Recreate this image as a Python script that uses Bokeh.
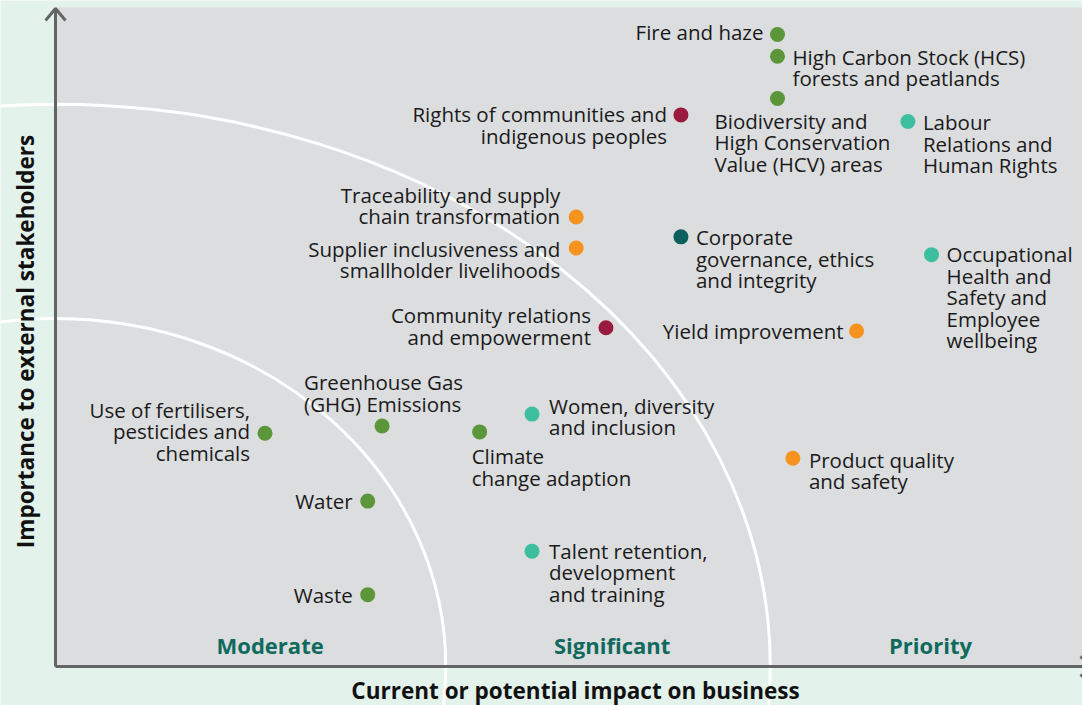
import math
from bokeh.plotting import figure
from bokeh.models import Range1d, ColumnDataSource
from bokeh.core.properties import value
from bokeh.embed import file_html
from bokeh.resources import INLINE

# ---------------- data ----------------
topics = [
    "Fire and haze",
    "High Carbon Stock (HCS)\nforests and peatlands",
    "Biodiversity and\nHigh Conservation\nValue (HCV) areas",
    "Rights of communities and\nindigenous peoples",
    "Labour\nRelations and\nHuman Rights",
    "Traceability and supply\nchain transformation",
    "Supplier inclusiveness and\nsmallholder livelihoods",
    "Corporate\ngovernance, ethics\nand integrity",
    "Occupational\nHealth and\nSafety and\nEmployee\nwellbeing",
    "Community relations\nand empowerment",
    "Yield improvement",
    "Use of fertilisers,\npesticides and\nchemicals",
    "Greenhouse Gas\n(GHG) Emissions",
    "Climate\nchange adaption",
    "Women, diversity\nand inclusion",
    "Product quality\nand safety",
    "Water",
    "Talent retention,\ndevelopment\nand training",
    "Waste",
]
impact = [70.3, 70.3, 70.3, 60.9, 83.0, 50.7, 50.7, 60.9, 85.3, 53.6,
          78.0, 20.4, 31.8, 41.3, 46.4, 71.8, 30.4, 46.4, 30.4]
importance = [95.9, 92.6, 86.2, 83.7, 82.7, 68.2, 63.5, 65.2, 62.5, 51.4,
              50.9, 35.4, 36.5, 35.6, 38.3, 31.6, 25.1, 17.5, 10.9]
group = ["Environment", "Environment", "Environment", "Community", "Workplace",
         "Operations", "Operations", "Governance", "Workplace", "Community",
         "Operations", "Environment", "Environment", "Environment", "Workplace",
         "Operations", "Environment", "Workplace", "Environment"]
zones = ["Moderate", "Significant", "Priority"]
zone_x = [20.9, 54.2, 85.2]
# zone boundaries: impact / importance at which each arc meets the axes
arc_impact = [38.0, 69.6]
arc_importance = [52.8, 85.3]
x_title = "Current or potential impact on business"
y_title = "Importance to external stakeholders"

# ---------------- styles / layout ----------------
group_colors = {"Environment": "#5b963a", "Community": "#9b1b40",
                "Workplace": "#3dbf9f", "Operations": "#f6921e",
                "Governance": "#0b5f5c"}
MINT = "#e3f2eb"
GREY = "#dcdddf"
AXIS = "#636466"
ZONE = "#0f6a5d"
FONT = "Open Sans"

# label placement (align, dx px, dy px of first-line centre from point)
label_layout = [
    ("right", -14, -2), ("left", 15, 1), ("left", -63, 23), ("right", -14, 0),
    ("left", 15, 1), ("right", -16, -22), ("right", -16, 1), ("left", 15, 1),
    ("left", 15, 0), ("right", -15, -12), ("right", -13, 0), ("right", -15, -23),
    ("left", -78, -43), ("left", -8, 25), ("left", 17, -8), ("left", 16, 2),
    ("right", -15, 0), ("left", 17, 0), ("right", -15, 1),
]
FS = 20.5
LH = 0.768
TEXT_SHIFT = -14.5   # px from first-line centre to text top

W, H = 1082, 705
OX, OY = 55, 666          # pixel position of the origin
TOPY = 7                  # pixel top of plotting area
PX_X = (W - OX) / 100.0
PX_Y = (OY - TOPY) / 100.0

p = figure(width=W, height=H, output_backend="svg", toolbar_location=None,
           x_range=Range1d(-OX / PX_X, 100), y_range=Range1d(-(H - OY) / PX_Y, OY / PX_Y),
           x_axis_type=None, y_axis_type=None,
           min_border=0)
p.background_fill_color = MINT
p.border_fill_color = MINT
p.outline_line_color = None
p.grid.visible = False

# plotting area
p.quad(left=[0], right=[100], bottom=[0], top=[100], fill_color=GREY, line_color=None)

# arcs (zone boundaries)
p.ellipse(x=[0, 0], y=[0, 0], width=[2 * a for a in arc_impact],
          height=[2 * b for b in arc_importance], fill_alpha=0,
          line_color="white", line_width=3)

# zone labels
p.text(x=zone_x, y=[(OY - 644) / PX_Y] * 3, text=zones, text_align="center",
       text_baseline="middle", text_font=value(FONT), text_font_style="bold",
       text_font_size="22px", text_color=ZONE)

# points
src = ColumnDataSource(dict(x=impact, y=importance, t=topics,
                            c=[group_colors[g] for g in group]))
p.scatter("x", "y", source=src, size=15, color="c", line_color=None)

# labels
for align in ("left", "right"):
    idx = [i for i, l in enumerate(label_layout) if l[0] == align]
    p.text(x=[impact[i] for i in idx], y=[importance[i] for i in idx],
           text=[topics[i] for i in idx],
           x_offset=[label_layout[i][1] for i in idx],
           y_offset=[label_layout[i][2] + TEXT_SHIFT for i in idx],
           text_align=align, text_baseline="top",
           text_line_height=LH,
           text_font=value(FONT), text_font_size=f"{FS}px", text_color="#1a1a1a")

# axes with arrow heads
top = (OY - 8) / PX_Y
right = (1092 - OX) / PX_X
ax_, ay_ = 10, 12
p.line([0, 0], [0, top], line_color=AXIS, line_width=3)
p.line([0, right], [0, 0], line_color=AXIS, line_width=3)
p.line([-ax_ / PX_X, 0, ax_ / PX_X], [top - ay_ / PX_Y, top, top - ay_ / PX_Y],
       line_color=AXIS, line_width=3)
p.line([right - ay_ / PX_X, right, right - ay_ / PX_X], [ax_ / PX_Y, 0, -ax_ / PX_Y],
       line_color=AXIS, line_width=3)

# axis titles
p.text(x=[(575 - OX) / PX_X], y=[(OY - 690) / PX_Y], text=[x_title],
       text_align="center", text_baseline="middle", text_font=value(FONT),
       text_font_style="bold", text_font_size="22.5px", text_color="#111111")
p.text(x=[(25 - OX) / PX_X], y=[(OY - 341) / PX_Y], text=[y_title], angle=math.pi / 2,
       text_align="center", text_baseline="middle", text_font=value(FONT),
       text_font_style="bold", text_font_size="22.5px", text_color="#111111")

open("out.html", "w").write(file_html(p, INLINE))
